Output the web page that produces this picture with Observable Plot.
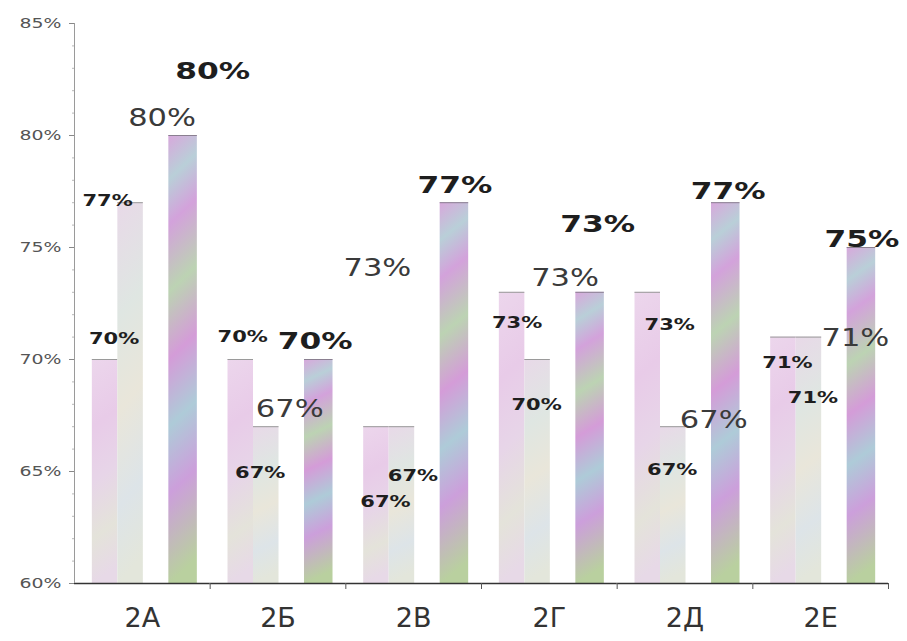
<!DOCTYPE html>
<html>
<head>
<meta charset="utf-8">
<script src="https://cdn.jsdelivr.net/npm/d3@7"></script>
<script src="https://cdn.jsdelivr.net/npm/@observablehq/plot@0.6"></script>
<style>
  body { margin: 0; background: #fff; }
  #chart svg { display: block; background: #fff; }
</style>
</head>
<body>
<div id="chart"></div>
<script>
// ---- data ----
const categories = ["2А", "2Б", "2В", "2Г", "2Д", "2Е"];
const seriesKeys = ["s1", "s2", "s3", "s4"];
const s1 = [70, 70, 67, 73, 73, 71];
const s2 = [77, 67, 67, 70, 67, 71];
const s3 = [80, 67, 73, 73, 67, 71];
const s4 = [80, 70, 77, 73, 77, 75];
const yTicks = [60, 65, 70, 75, 80, 85];

// ---- layout / style (not data) ----
const W = 907, H = 641, mL = 74, mR = 19, mT = 23, mB = 58;
const padOuter = 0.66, alignX = 0.53;
const labelNudge = {
  s1: [[9, -20], [2, -22], [9, 75], [5, 31], [22, 33], [4, 26]],
  s2: [[-23, -2], [-6, 46], [11, 49], [-1, 46], [-1, 43], [4, 61]],
  s3: [[6, -18], [-2, -18], [-50, -24], [2, -14], [15, -7], [21, 1]],
  s4: [[31, -64], [-2, -18], [2, -17], [9, -68], [4, -11], [2, -8]]
};
const labelStyle = {
  s1: {fontSize: 15, fontWeight: "bold", fill: "#1e1e1e"},
  s2: {fontSize: 15, fontWeight: "bold", fill: "#1e1e1e"},
  s3: {fontSize: 25, fontWeight: "normal", fill: "#3a3a3a"},
  s4: {fontSize: 23, fontWeight: "bold", fill: "#1e1e1e"}
};
const stretchBySize = {14: 1.35, 15: 1.4, 25: 1.22, 23: 1.36};
const barFill = {s1: "url(#g-s1)", s2: "url(#g-s2)", s4: "url(#g-s4)"};

const valuesBySeries = {s1, s2, s3, s4};
const rows = [];
categories.forEach((c, i) => seriesKeys.forEach(s => rows.push({cat: c, series: s, value: valuesBySeries[s][i], i})));

// band geometry for the y-axis line (left edge of the first facet)
const facetW = (W - mL - mR) / categories.length;
const stepX = facetW / (seriesKeys.length + 2 * padOuter);
const firstCenter = (facetW - stepX * seriesKeys.length) * alignX + stepX / 2;

const marks = [];
// bars (series 3 is invisible in the original: only its label shows)
["s1", "s2", "s4"].forEach(s => {
  marks.push(Plot.barY(rows.filter(d => d.series === s), {
    fx: "cat", x: "series", y1: 60, y2: "value",
    fill: barFill[s], insetLeft: 0, insetRight: s === "s4" ? -3 : 0
  }));
  // thin top edge of each bar
  marks.push(Plot.tickY(rows.filter(d => d.series === s), {
    fx: "cat", x: "series", y: "value", stroke: s === "s4" ? "#8a7f90" : "#9a9a9a",
    strokeWidth: 1, insetRight: s === "s4" ? -3 : 0
  }));
});
// baseline (one rule per facet, joined)
marks.push(Plot.ruleY(categories.map(c => ({cat: c, v: 60})), {fx: "cat", y: "v", stroke: "#333", strokeWidth: 1.3}));
// y axis line
marks.push(Plot.ruleX([{cat: categories[0]}], {fx: "cat", x: () => "s1", y1: 60, y2: 85, dx: -firstCenter, stroke: "#9a9a9a", strokeWidth: 1}));
// axes
marks.push(Plot.axisY({ticks: d3.range(60, 85.5, 1), tickSize: 2, tickFormat: () => "", stroke: "#b8b8b8"}));
marks.push(Plot.axisY({ticks: yTicks, tickSize: 5, tickPadding: 8, tickFormat: d => d + "%", fontSize: 14, fill: "#555", stroke: "#888"}));
marks.push(Plot.axisFx({anchor: "bottom", tickSize: 6, tickFormat: () => "", dx: facetW / 2, stroke: "#555"}));
marks.push(Plot.axisFx({anchor: "bottom", tickSize: 0, tickPadding: 24, fontSize: 27, fill: "#333", lineAnchor: "top"}));
// labels
rows.forEach(d => {
  const [dx, dy] = labelNudge[d.series][d.i];
  const st = labelStyle[d.series];
  marks.push(Plot.text([d], {
    fx: "cat", x: "series", y: "value", text: v => v.value + "%",
    dx, dy, fontSize: st.fontSize, fontWeight: st.fontWeight, fill: st.fill
  }));
});

const plot = Plot.plot({
  width: W, height: H,
  marginLeft: mL, marginRight: mR, marginTop: mT, marginBottom: mB,
  style: {fontFamily: "'DejaVu Sans', sans-serif", background: "#fff", overflow: "visible"},
  fx: {domain: categories, padding: 0, round: false, axis: null, label: null},
  x: {domain: seriesKeys, paddingInner: 0, paddingOuter: padOuter, align: alignX, round: false, axis: null, label: null},
  y: {domain: [60, 85], axis: null, label: null},
  marks
});

// gradients imitating the scanned pastel bar textures
const defs = document.createElementNS("http://www.w3.org/2000/svg", "defs");
defs.innerHTML = `
<linearGradient id="g-s1" x1="0" y1="0" x2="0.08" y2="1">
  <stop offset="0" stop-color="#ecd6ec"/>
  <stop offset="0.3" stop-color="#e8cbe8"/>
  <stop offset="0.55" stop-color="#e7d5e8"/>
  <stop offset="0.8" stop-color="#e4e3da"/>
  <stop offset="1" stop-color="#e7d9e7"/>
</linearGradient>
<linearGradient id="g-s2" x1="0" y1="0" x2="0.08" y2="1">
  <stop offset="0" stop-color="#e8d9e8"/>
  <stop offset="0.3" stop-color="#dfe6e2"/>
  <stop offset="0.55" stop-color="#e9e6da"/>
  <stop offset="0.8" stop-color="#dde4e8"/>
  <stop offset="1" stop-color="#e3e6db"/>
</linearGradient>
<linearGradient id="g-s4" x1="0" y1="0" x2="0.06" y2="1">
  <stop offset="0" stop-color="#d8a8dc"/>
  <stop offset="0.1" stop-color="#b9cfd8"/>
  <stop offset="0.2" stop-color="#d3a2db"/>
  <stop offset="0.35" stop-color="#bcd3b3"/>
  <stop offset="0.5" stop-color="#d49cd8"/>
  <stop offset="0.65" stop-color="#aecbd8"/>
  <stop offset="0.8" stop-color="#cc9fdb"/>
  <stop offset="1" stop-color="#b9d09f"/>
</linearGradient>`;
plot.insertBefore(defs, plot.firstChild);

document.getElementById("chart").appendChild(plot);

// widen the glyphs like the original's broad typeface
plot.querySelectorAll("text").forEach(t => {
  const holder = t.closest("[font-size]");
  if (!holder) return;
  const f = stretchBySize[parseFloat(holder.getAttribute("font-size"))];
  if (!f) return;
  const L = t.getComputedTextLength();
  if (L > 0) {
    t.setAttribute("textLength", (L * f).toFixed(1));
    t.setAttribute("lengthAdjust", "spacingAndGlyphs");
  }
});
</script>
</body>
</html>
